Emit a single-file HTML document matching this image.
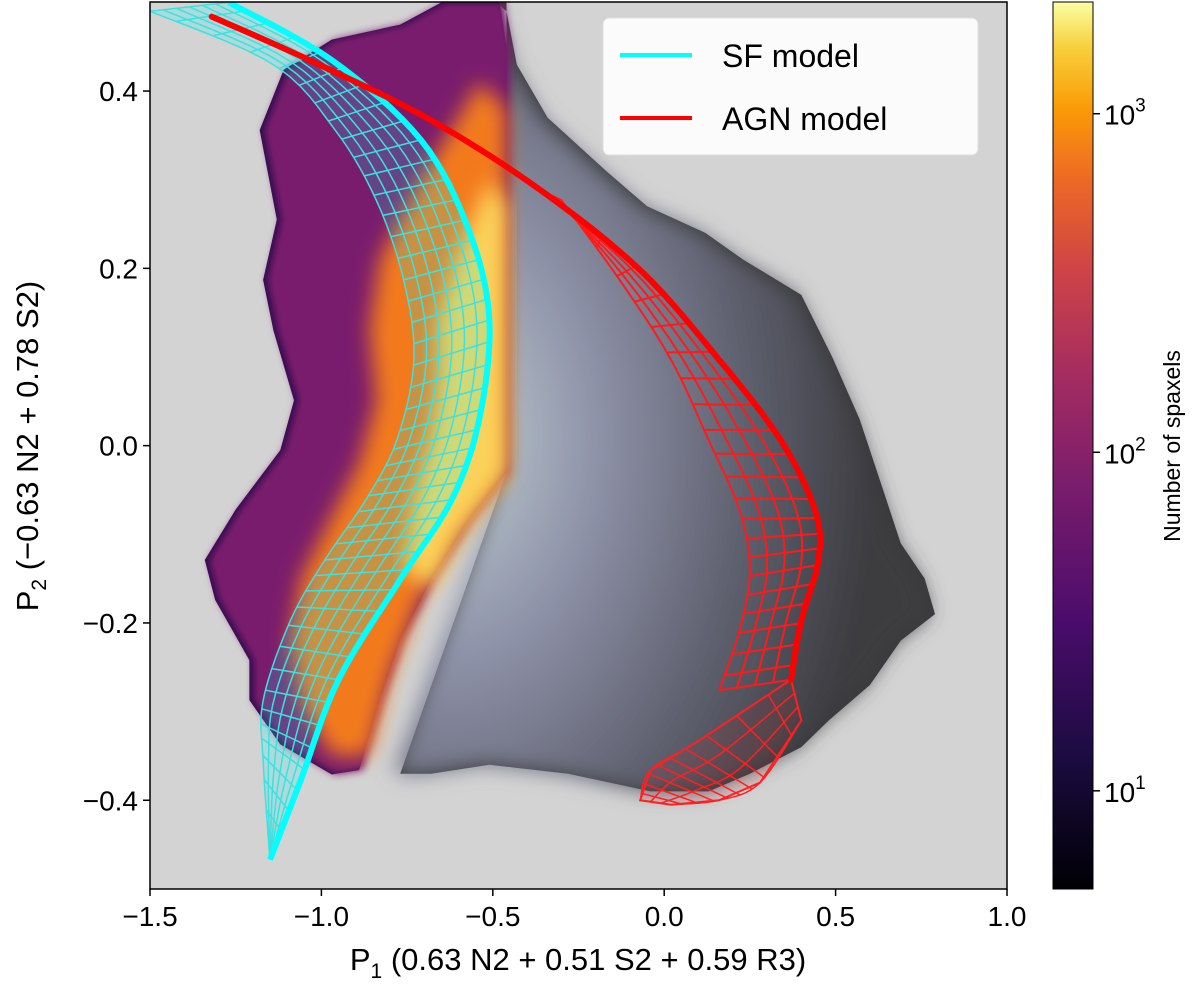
<!DOCTYPE html>
<html><head><meta charset="utf-8"><style>
body{margin:0;background:#fff;width:1200px;height:979px;overflow:hidden}
text{font-family:"Liberation Sans","DejaVu Sans",sans-serif;fill:#000}
</style></head><body>
<svg id="chart" width="1200" height="979">
<defs>
<linearGradient id="inferno" x1="0" y1="1" x2="0" y2="0">
<stop offset="0" stop-color="#000004"/><stop offset="0.15" stop-color="#1b0c41"/><stop offset="0.3" stop-color="#4a0c6b"/><stop offset="0.45" stop-color="#781c6d"/><stop offset="0.58" stop-color="#a52c60"/><stop offset="0.7" stop-color="#cf4446"/><stop offset="0.8" stop-color="#ed6925"/><stop offset="0.88" stop-color="#fb9b06"/><stop offset="0.95" stop-color="#f7d13d"/><stop offset="1" stop-color="#fcffa4"/>
</linearGradient>
<radialGradient id="grayGrad" cx="0.1" cy="0.55" r="0.8">
<stop offset="0" stop-color="#c0d0d2"/><stop offset="0.35" stop-color="#8e92a8"/><stop offset="0.7" stop-color="#5e606e"/><stop offset="1" stop-color="#3c3c40"/>
</radialGradient>
<filter id="blur"><feGaussianBlur stdDeviation="10"/></filter>
<filter id="blur2"><feGaussianBlur stdDeviation="4"/></filter>
<clipPath id="plotClip"><rect x="150" y="2" width="857" height="887"/></clipPath>
</defs>
<rect x="150" y="2" width="857" height="887" fill="#d3d3d3"/>
<g id="marks" clip-path="url(#plotClip)"></g>
<rect x="150" y="2" width="857" height="887" fill="none" stroke="#000" stroke-width="1.5"/>
<g id="axes"></g>
<g>
<rect x="603" y="18" width="375" height="137" rx="6" fill="#fff" fill-opacity="0.9" stroke="#ddd"/>
<line x1="620" y1="55" x2="692" y2="55" stroke="#00ffff" stroke-width="4"/>
<text x="722" y="67" font-size="32">SF model</text>
<line x1="620" y1="118" x2="692" y2="118" stroke="#ff0000" stroke-width="4"/>
<text x="722" y="130" font-size="32">AGN model</text>
</g>
<rect x="1053" y="2" width="40" height="887" fill="url(#inferno)" stroke="#000"/>
<g id="cbaxis"></g>
<text transform="translate(1180,446) rotate(-90)" text-anchor="middle" font-size="23">Number of spaxels</text>
<text x="578" y="970" text-anchor="middle" font-size="31">P<tspan font-size="21" dy="8">1</tspan><tspan dy="-8"> (0.63 N2 + 0.51 S2 + 0.59 R3)</tspan></text>
<text transform="translate(38,446) rotate(-90)" text-anchor="middle" font-size="31">P<tspan font-size="21" dy="8">2</tspan><tspan dy="-8"> (−0.63 N2 + 0.78 S2)</tspan></text>
</svg>
<script>
const xTicks=[-1.5,-1.0,-0.5,0.0,0.5,1.0];
const xTickLabels=["−1.5","−1.0","−0.5","0.0","0.5","1.0"];
const yTicks=[0.4,0.2,0.0,-0.2,-0.4];
const yTickLabels=["0.4","0.2","0.0","−0.2","−0.4"];
const cbTicks=[1,2,3];
const cbRange=[0.71,3.33];
const grayRegion=[[-0.49,0.5],[-0.46,0.49],[-0.43,0.43],[-0.34,0.37],[-0.17,0.31],[-0.05,0.27],[0.12,0.24],[0.23,0.21],[0.40,0.17],[0.49,0.10],[0.57,0.03],[0.63,-0.04],[0.69,-0.11],[0.76,-0.15],[0.79,-0.19],[0.69,-0.22],[0.60,-0.27],[0.48,-0.31],[0.40,-0.34],[0.25,-0.37],[0.13,-0.39],[-0.04,-0.39],[-0.28,-0.37],[-0.51,-0.36],[-0.68,-0.37],[-0.77,-0.37],[-0.46,-0.03],[-0.46,0.5]];
const sfOuter=[[-0.65,0.5],[-0.48,0.5],[-0.46,0.45],[-0.46,-0.03],[-0.57,-0.084],[-0.68,-0.151],[-0.77,-0.219],[-0.83,-0.287],[-0.89,-0.366],[-0.97,-0.371],[-1.12,-0.337],[-1.21,-0.287],[-1.21,-0.242],[-1.31,-0.174],[-1.34,-0.129],[-1.25,-0.072],[-1.12,-0.005],[-1.08,0.051],[-1.14,0.13],[-1.17,0.187],[-1.13,0.255],[-1.18,0.356],[-1.11,0.424],[-0.97,0.458],[-0.77,0.475]];
const sfMid=[[-0.54,0.41],[-0.46,0.38],[-0.46,-0.03],[-0.6,-0.1],[-0.71,-0.17],[-0.8,-0.26],[-0.86,-0.35],[-0.97,-0.35],[-1.06,-0.29],[-1.09,-0.22],[-1.06,-0.15],[-0.97,-0.08],[-0.89,-0.02],[-0.84,0.05],[-0.86,0.13],[-0.83,0.21],[-0.71,0.3],[-0.6,0.37]];
const sfCore=[[-0.51,0.30],[-0.46,0.27],[-0.46,-0.03],[-0.6,-0.1],[-0.68,-0.16],[-0.76,-0.14],[-0.73,-0.06],[-0.68,0.01],[-0.66,0.07],[-0.66,0.14],[-0.6,0.22]];
const sfRight=[[-1.27,0.5],[-0.97,0.435],[-0.71,0.345],[-0.57,0.243],[-0.51,0.142],[-0.54,0.029],[-0.62,-0.061],[-0.77,-0.151],[-0.95,-0.264],[-1.06,-0.377],[-1.15,-0.467]];
const sfLeft=[[-1.5,0.49],[-1.14,0.43],[-0.96,0.356],[-0.84,0.277],[-0.76,0.187],[-0.73,0.097],[-0.78,0.006],[-0.87,-0.061],[-0.99,-0.129],[-1.09,-0.197],[-1.17,-0.287],[-1.17,-0.355],[-1.15,-0.467]];
const agnLine=[[-1.32,0.484],[-1.03,0.434],[-0.68,0.367],[-0.36,0.288],[-0.07,0.198],[0.16,0.097],[0.34,0.006],[0.44,-0.073],[0.45,-0.129],[0.40,-0.197],[0.37,-0.264]];
const agnInner=[[-0.30,0.277],[-0.13,0.187],[0.02,0.097],[0.13,0.006],[0.22,-0.073],[0.25,-0.141],[0.22,-0.208],[0.16,-0.276],[0.10,-0.333]];
const agnCup=[[-0.07,-0.40],[-0.04,-0.366],[0.10,-0.333],[0.37,-0.264],[0.40,-0.31],[0.28,-0.38],[0.16,-0.40],[0.02,-0.405]];
const NS="http://www.w3.org/2000/svg";
const X=v=>150+(v+1.5)*342.8, Y=v=>2.4+(0.5-v)*886.5;
const CB=v=>889-(v-cbRange[0])/(cbRange[1]-cbRange[0])*887;
function mk(tag,attrs,parent){const e=document.createElementNS(NS,tag);for(const k in attrs)e.setAttribute(k,attrs[k]);parent.appendChild(e);return e;}
const pts=a=>a.map(p=>X(p[0]).toFixed(1)+","+Y(p[1]).toFixed(1)).join(" ");
function smooth(a,n){const out=[];for(let i=0;i<a.length-1;i++){const p0=a[Math.max(i-1,0)],p1=a[i],p2=a[i+1],p3=a[Math.min(i+2,a.length-1)];for(let k=0;k<n;k++){const t=k/n,t2=t*t,t3=t2*t;const f=(a0,a1,a2,a3)=>0.5*((2*a1)+(-a0+a2)*t+(2*a0-5*a1+4*a2-a3)*t2+(-a0+3*a1-3*a2+a3)*t3);out.push([f(p0[0],p1[0],p2[0],p3[0]),f(p0[1],p1[1],p2[1],p3[1])]);}}out.push(a[a.length-1]);return out;}
const marks=document.getElementById("marks");
let e;
e=mk("polygon",{points:pts(grayRegion),fill:"#3a3a3c"},marks);


e=mk("polygon",{points:pts(grayRegion),fill:"url(#grayGrad)",filter:"url(#blur)",transform:"translate(-6,0)"},marks);


e=mk("polygon",{points:pts(sfOuter),fill:"#2a0a4a"},marks);


e=mk("polygon",{points:pts(sfOuter),fill:"#7a1b6d",filter:"url(#blur2)",transform:"translate(4,0)"},marks);


e=mk("polygon",{points:pts(sfMid),fill:"#f37a1a",filter:"url(#blur)"},marks);


e=mk("polygon",{points:pts(sfCore),fill:"#fad25a",filter:"url(#blur)"},marks);


function interp(a,t){const n=a.length-1,f=t*n,i=Math.min(Math.floor(f),n-1),r=f-i;return[a[i][0]+(a[i+1][0]-a[i][0])*r,a[i][1]+(a[i+1][1]-a[i][1])*r];}
function grid(A,B,nu,nv,color,name,sw){
  const g=mk("g",{},marks);
  
  
  const As=smooth(A,8),Bs=smooth(B,8);
  const P=(t,s)=>{const a=interp(As,t),b=interp(Bs,t);return[a[0]+(b[0]-a[0])*s,a[1]+(b[1]-a[1])*s];};
  for(let i=0;i<=nu;i++){const t=i/nu;mk("polyline",{points:pts([P(t,0),P(t,0.33),P(t,0.66),P(t,1)]),fill:"none",stroke:color,"stroke-width":sw},g);}
  for(let j=0;j<=nv;j++){const s=j/nv,arr=[];for(let i=0;i<=80;i++)arr.push(P(i/80,s));mk("polyline",{points:pts(arr),fill:"none",stroke:color,"stroke-width":sw},g);}
  return g;
}
e=mk("polygon",{points:pts(smooth(sfRight,8).concat(smooth(sfLeft,8).reverse())),fill:"#00ffff","fill-opacity":"0.18"},marks);


grid(sfRight,sfLeft,45,6,"#3ee0e0","sf-model-grid",1.5);
e=mk("polyline",{points:pts(smooth(sfRight,8)),fill:"none",stroke:"#00ffff","stroke-width":6,"stroke-linejoin":"round"},marks);


grid(agnLine.slice(3),agnInner.slice(0,8),22,4,"#ff1a1a","agn-model-grid",2);
e=mk("polygon",{points:pts(agnCup),fill:"#ff0000","fill-opacity":"0.08",stroke:"#ff2020","stroke-width":2},marks);


grid(agnCup.slice(0,4),agnCup.slice(4).reverse().concat([agnCup[3]]).slice(0,4),10,3,"#ff2020","agn-model-cup-grid",1.5);
e=mk("polyline",{points:pts(smooth(agnLine,8)),fill:"none",stroke:"#ff0000","stroke-width":6,"stroke-linejoin":"round","stroke-linecap":"round"},marks);


const ax=document.getElementById("axes");
xTicks.forEach((v,i)=>{
  e=mk("line",{x1:X(v),x2:X(v),y1:889,y2:896,stroke:"#000","stroke-width":1.5},ax);
  
  
  e=mk("text",{x:X(v),y:926,"text-anchor":"middle","font-size":28},ax);e.textContent=xTickLabels[i];
  
  
});
yTicks.forEach((v,i)=>{
  e=mk("line",{x1:143,x2:150,y1:Y(v),y2:Y(v),stroke:"#000","stroke-width":1.5},ax);
  
  
  e=mk("text",{x:138,y:Y(v)+10,"text-anchor":"end","font-size":28},ax);e.textContent=yTickLabels[i];
  
  
});
const cb=document.getElementById("cbaxis");
cbTicks.forEach(v=>{
  e=mk("line",{x1:1093,x2:1100,y1:CB(v),y2:CB(v),stroke:"#000","stroke-width":1.5},cb);
  
  
  e=mk("text",{x:1104,y:CB(v)+11,"font-size":28},cb);
  e.innerHTML='10<tspan font-size="19" dy="-13">'+v+'</tspan>';
  
  
});
</script>
</body></html>
